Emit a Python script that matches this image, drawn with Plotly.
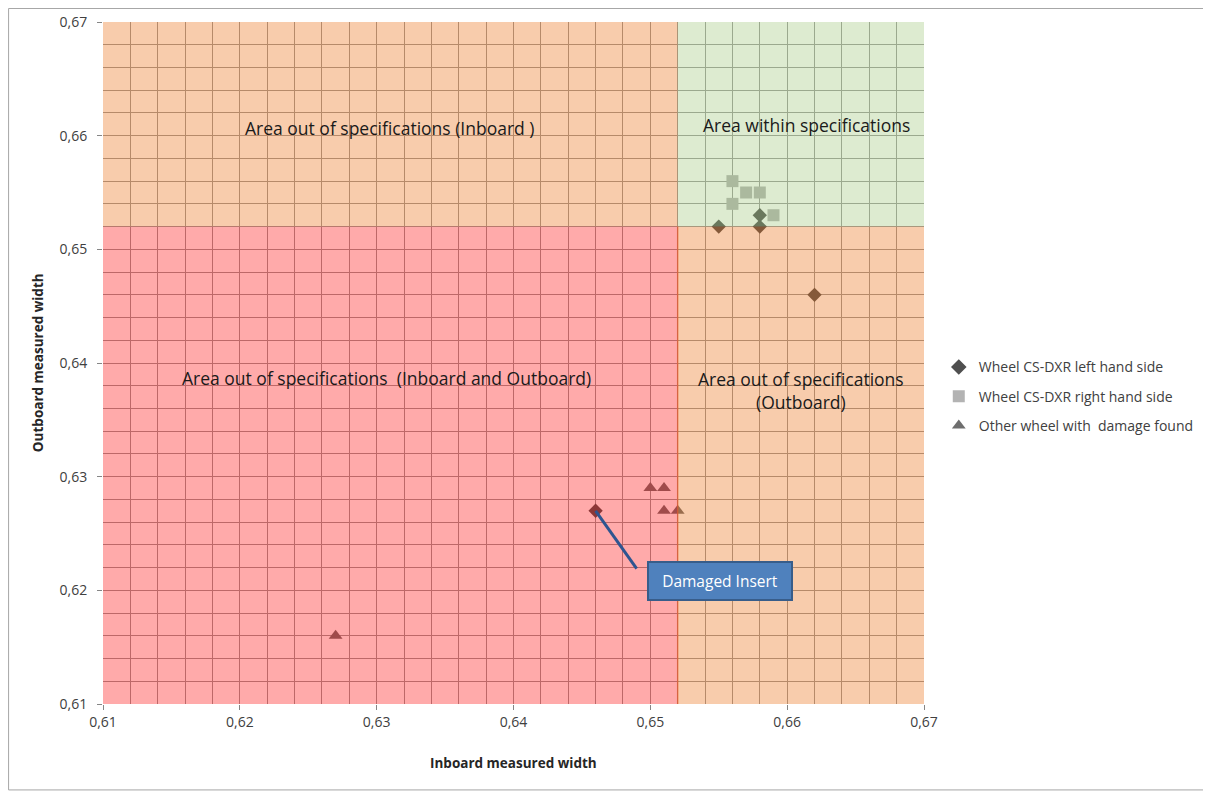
import plotly.graph_objects as go

# ---- data ----
left_x = [0.655, 0.658, 0.658, 0.662, 0.646]
left_y = [0.652, 0.652, 0.653, 0.646, 0.627]

right_x = [0.656, 0.656, 0.657, 0.658, 0.659]
right_y = [0.656, 0.654, 0.655, 0.655, 0.653]

other_x = [0.650, 0.651, 0.651, 0.652, 0.627]
other_y = [0.629, 0.629, 0.627, 0.627, 0.616]

series_names = ["Wheel CS-DXR left hand side",
                "Wheel CS-DXR right hand side",
                "Other wheel with  damage found"]

axis_min, axis_max = 0.61, 0.67
spec_limit = 0.652

region_labels = ["Area out of specifications (Inboard )",
                 "Area within specifications",
                 "Area out of specifications  (Inboard and Outboard)",
                 "Area out of specifications<br>(Outboard)"]
region_label_pos = [(0.631, 0.6607), (0.6614, 0.6609), (0.6307, 0.6387), (0.661, 0.6376)]

callout_text = "Damaged Insert"
callout_point = (0.646, 0.627)
callout_line_end = (0.6490, 0.6219)
callout_box_center = (0.6551, 0.6208)

FONT = "Open Sans"

fig = go.Figure()

fig.add_trace(go.Scatter(x=left_x, y=left_y, mode="markers", name=series_names[0],
                         legendgroup="a",
                         marker=dict(symbol="diamond", size=11, color="#4F4F4F")))
fig.add_trace(go.Scatter(x=right_x, y=right_y, mode="markers", name=series_names[1],
                         legendgroup="b",
                         marker=dict(symbol="square", size=12, color="#B3B3B3")))
fig.add_trace(go.Scatter(x=other_x, y=other_y, mode="markers", name=series_names[2],
                         legendgroup="c",
                         marker=dict(symbol="triangle-up", size=12, color="#6E6E6E")))

alpha = 0.35
regions = [
    (axis_min, spec_limit, spec_limit, axis_max, "rgb(235,109,18)"),   # top-left orange
    (spec_limit, axis_max, spec_limit, axis_max, "rgb(158,198,121)"),  # top-right green
    (axis_min, spec_limit, axis_min, spec_limit, "rgb(255,12,12)"),    # bottom-left red
    (spec_limit, axis_max, axis_min, spec_limit, "rgb(235,109,18)"),   # bottom-right orange
]
for x0, x1, y0, y1, col in regions:
    fig.add_shape(type="rect", xref="x", yref="y", x0=x0, x1=x1, y0=y0, y1=y1,
                  fillcolor=col, opacity=alpha, line=dict(width=0), layer="above")

# boundary line between red and lower orange areas
fig.add_shape(type="line", xref="x", yref="y", x0=spec_limit, x1=spec_limit,
              y0=axis_min, y1=spec_limit, line=dict(color="rgba(235,90,40,0.6)", width=1.5),
              layer="above")

# callout connector
fig.add_shape(type="line", xref="x", yref="y",
              x0=callout_point[0], y0=callout_point[1],
              x1=callout_line_end[0], y1=callout_line_end[1],
              line=dict(color="#2E5590", width=3), layer="above")

for txt, (ax_, ay_) in zip(region_labels, region_label_pos):
    fig.add_annotation(x=ax_, y=ay_, xref="x", yref="y", text=txt, showarrow=False,
                       xanchor="center", yanchor="middle",
                       font=dict(family=FONT, size=17.5, color="#1A1A1A"))

fig.add_annotation(x=callout_box_center[0], y=callout_box_center[1], xref="x", yref="y",
                   text=callout_text, showarrow=False, bgcolor="#4F81BD",
                   xanchor="center", yanchor="middle",
                   bordercolor="#385D8A", borderwidth=2, borderpad=7, width=128,
                   font=dict(family=FONT, size=15.5, color="white"))

# axis titles
fig.add_annotation(x=0.5, y=-0.0865, xref="paper", yref="paper", text="<b>Inboard measured width</b>",
                   showarrow=False, xanchor="center", yanchor="middle",
                   font=dict(family=FONT, size=13.5, color="#262626"))
fig.add_annotation(x=-0.079, y=0.5, xref="paper", yref="paper", text="<b>Outboard measured width</b>",
                   showarrow=False, textangle=-90, xanchor="center", yanchor="middle",
                   font=dict(family=FONT, size=13.5, color="#262626"))

# chart border
fig.add_shape(type="rect", xref="paper", yref="paper", x0=-0.115, x1=1.347, y0=-0.126, y1=1.0198,
              line=dict(color="#A6A6A6", width=1), fillcolor="rgba(0,0,0,0)", layer="below")

axis_common = dict(range=[axis_min, axis_max], dtick=0.01, tick0=axis_min, tickformat=".2f",
                   showgrid=True, gridcolor="#9A9A9A", gridwidth=1,
                   minor=dict(dtick=0.002, showgrid=True, gridcolor="#9A9A9A", gridwidth=1),
                   ticks="outside", ticklen=5, tickcolor="#868686",
                   showline=False, zeroline=False, fixedrange=True, automargin=False,
                   tickfont=dict(family=FONT, size=14, color="#404040"))

fig.update_layout(
    width=1211, height=792,
    margin=dict(l=95, r=295, t=14, b=96, autoexpand=False),
    paper_bgcolor="white", plot_bgcolor="white",
    separators=", ",
    xaxis=axis_common, yaxis=dict(axis_common, ticklabelstandoff=7),
    showlegend=True,
    legend=dict(x=1.018, y=0.517, xanchor="left", yanchor="top",
                font=dict(family=FONT, size=14, color="#404040"),
                tracegroupgap=8, itemsizing="constant", itemwidth=30,
                bgcolor="rgba(0,0,0,0)"),
)

fig.write_html("out.html")
